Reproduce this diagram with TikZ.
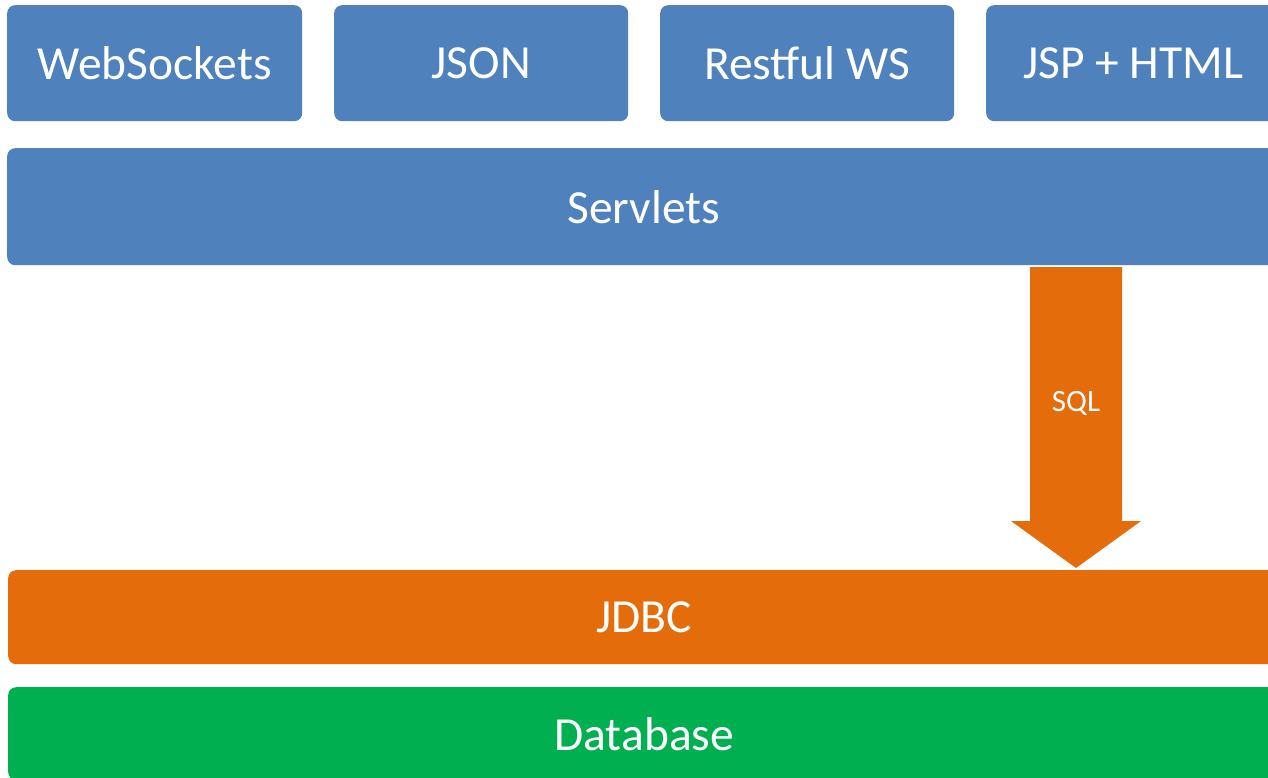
\documentclass[tikz,border=0pt]{standalone}
\usepackage{fontspec}
\setmainfont{Carlito}
\usetikzlibrary{calc}
\definecolor{boxblue}{HTML}{4F81BD}
\definecolor{boxorange}{HTML}{E46C0A}
\definecolor{boxgreen}{HTML}{00B050}
\begin{document}
\begin{tikzpicture}[x=1pt,y=-1pt,
  layer/.style={rounded corners=8pt, text=white, inner sep=0pt,
    font=\fontsize{47.5}{52}\selectfont, anchor=north west},
  bluebox/.style={layer, fill=boxblue},
  orangebox/.style={layer, fill=boxorange},
  greenbox/.style={layer, fill=boxgreen}]
\useasboundingbox (0,0) rectangle (1268,778);
\clip (0,0) rectangle (1268,778);
\node[bluebox, minimum width=295pt, minimum height=116pt] (ws) at (7,5) {WebSockets};
\node[bluebox, minimum width=294pt, minimum height=116pt] (json) at (334,5) {JSON};
\node[bluebox, minimum width=294pt, minimum height=116pt] (rest) at (660,5) {Restful WS};
\node[bluebox, minimum width=294pt, minimum height=116pt] (jsp) at (986,5) {JSP + HTML};
\node[bluebox, minimum width=1273pt, minimum height=117pt] (servlets) at (7,148) {Servlets};
\node[orangebox, minimum width=1272pt, minimum height=94pt] (jdbc) at (8,570) {JDBC};
\node[greenbox, minimum width=1272pt, minimum height=93pt] (db) at (8,687) {Database};
\coordinate (top) at (1076,267);
\coordinate (tip) at (1076,568);
\fill[boxorange] ($(top)+(-46,0)$) -- ($(top)+(46,0)$) -- (1122,521) -- (1141,521)
  -- (tip) -- (1011,521) -- (1030,521) -- cycle;
\node[text=white, font=\fontsize{31}{34}\selectfont] (sql) at (1076,403) {SQL};
\end{tikzpicture}
\end{document}
